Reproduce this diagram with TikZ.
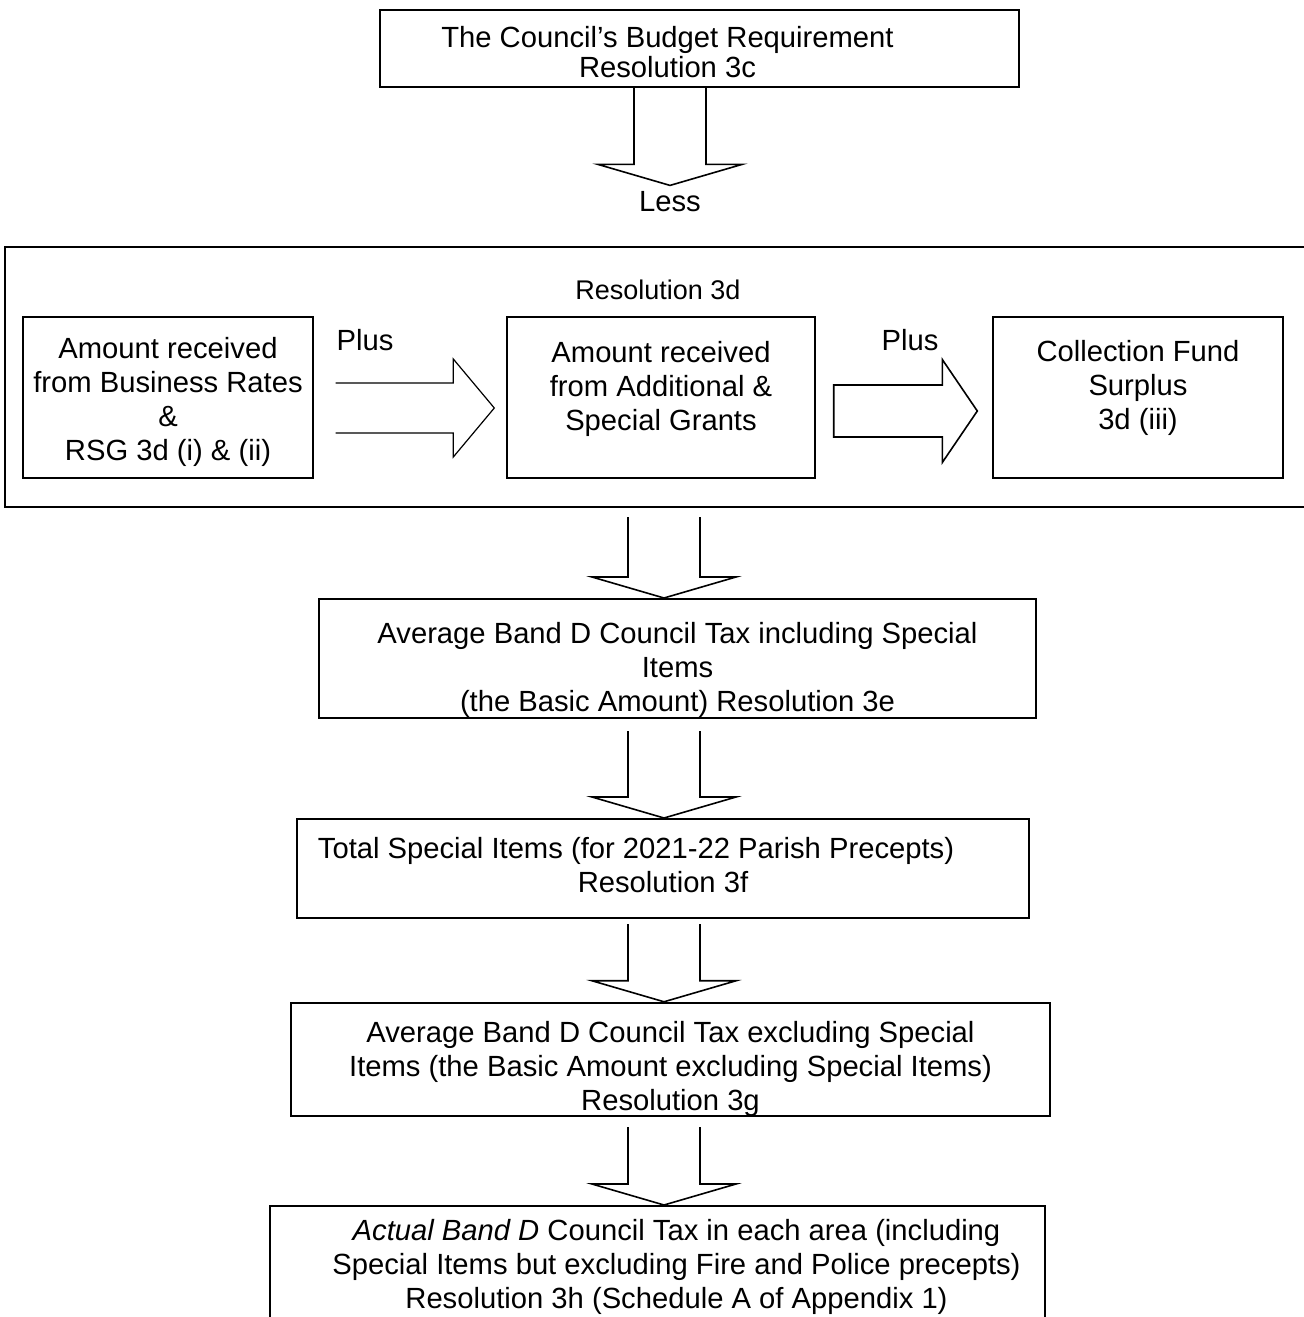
\documentclass[tikz,border=0pt]{standalone}
\usepackage{fontspec}
\setmainfont{Liberation Sans}
\usetikzlibrary{calc}

\tikzset{
  box/.style={draw, line width=1pt, inner sep=0pt, align=center},
  sub/.style={draw, line width=0.7pt, inner sep=0pt, align=center,
              minimum height=80.5pt},
  blk/.style={line width=0.8pt, line join=miter},
  bdown/.style={blk, to path={let \p1=(\tikztostart), \p2=(\tikztotarget) in
      (\x1-18pt,\y1-#1) -- (\x1-18pt,\y2+10.5pt) -- (\x1-36pt,\y2+10.5pt)
      -- (\x2,\y2) -- (\x1+36pt,\y2+10.5pt) -- (\x1+18pt,\y2+10.5pt)
      -- (\x1+18pt,\y1-#1)}},
  bdown/.default=5pt
}

\begin{document}
\begin{tikzpicture}[x=0.5pt, y=-0.5pt, font=\fontsize{14.6}{17}\selectfont]
  \useasboundingbox (0,0) rectangle (1304,1317);
  \clip (0,0) rectangle (1304,1317);

  \node[box, minimum width=319.5pt, minimum height=38.5pt,
        font=\fontsize{14.6}{15}\selectfont] (top) at (699.5,48.5)
        {\rule{0pt}{14.2pt}The Council’s Budget Requirement\hspace*{32pt}\\Resolution 3c\hspace*{32pt}};
  \node[inner sep=0pt] (less) at (670,202) {Less};
  \coordinate (lesstop) at ([yshift=3pt]less.north);

  \draw[line width=1pt] (1304,247) -- (5,247) -- (5,507) -- (1304,507);
  \node[font=\fontsize{13.5}{16}\selectfont] (res) at (658,290) {Resolution 3d};
  \node[sub, minimum width=145pt] (bus) at (168,397.5)
        {\rule{0pt}{14.7pt}Amount received\\from Business Rates\\\&\\RSG 3d (i) \& (ii)};
  \node[sub, minimum width=154pt] (add) at (661,397.5)
        {Amount received\\from Additional \&\\Special Grants\\[-5pt]\mbox{}};
  \node[sub, minimum width=145pt] (cfs) at (1138,397.5)
        {Collection Fund\\Surplus\\3d (iii)\\[-4pt]\mbox{}};
  \node (plus1) at (365,340) {Plus};
  \node (plus2) at (910,340) {Plus};

  \draw[blk, line width=0.6pt]
    let \p1=([xshift=11pt,yshift=-5.25pt]bus.east),
        \p2=([xshift=-6pt,yshift=-5.25pt]add.west) in
    (\x1,\y1+12.5pt) -- (\x2-20.5pt,\y1+12.5pt) -- (\x2-20.5pt,\y1+24.5pt)
    -- (\x2,\y2) -- (\x2-20.5pt,\y1-24.5pt) -- (\x2-20.5pt,\y1-12.5pt)
    -- (\x1,\y1-12.5pt);
  \draw[blk]
    let \p1=([xshift=9pt,yshift=-6.75pt]add.east),
        \p2=([xshift=-7.5pt,yshift=-6.75pt]cfs.west) in
    (\x1,\y1+13pt) -- (\x2-17.5pt,\y1+13pt) -- (\x2-17.5pt,\y1+25.75pt)
    -- (\x2,\y2) -- (\x2-17.5pt,\y1-25.75pt) -- (\x2-17.5pt,\y1-13pt)
    -- (\x1,\y1-13pt) -- cycle;

  \coordinate (grp) at (664,507);
  \node[box, minimum width=358.5pt, minimum height=59.5pt] (avg) at (677.5,658.5)
        {\rule{0pt}{21.7pt}Average Band D Council Tax including Special\\Items\\(the Basic Amount) Resolution 3e};
  \node[box, minimum width=366pt, minimum height=49.5pt] (spec) at (663,868.5)
        {Total Special Items (for 2021-22 Parish Precepts)\hspace*{27pt}\\Resolution 3f\\[-13pt]\mbox{}};
  \node[box, minimum width=379.5pt, minimum height=55.5pt] (basic) at (670.5,1059.5)
        {\rule{0pt}{19.7pt}Average Band D Council Tax excluding Special\\Items (the Basic Amount excluding Special Items)\\Resolution 3g};
  \node[box, minimum width=387.5pt, minimum height=61pt] (band) at (657.5,1267)
        {\hspace*{19pt}\textit{Actual Band D} Council Tax in each area (including\\\hspace*{19pt}Special Items but excluding Fire and Police precepts)\\\hspace*{19pt}Resolution 3h (Schedule A of Appendix 1)};

  \draw[bdown=0pt] (top.south -| less) to (lesstop);
  \draw[bdown] (grp) to (avg.north -| grp);
  \draw[bdown=6pt] (avg.south -| grp) to (spec.north -| grp);
  \draw[bdown=2.5pt] (spec.south -| grp) to (basic.north -| grp);
  \draw[bdown] (basic.south -| grp) to (band.north -| grp);
\end{tikzpicture}
\end{document}
